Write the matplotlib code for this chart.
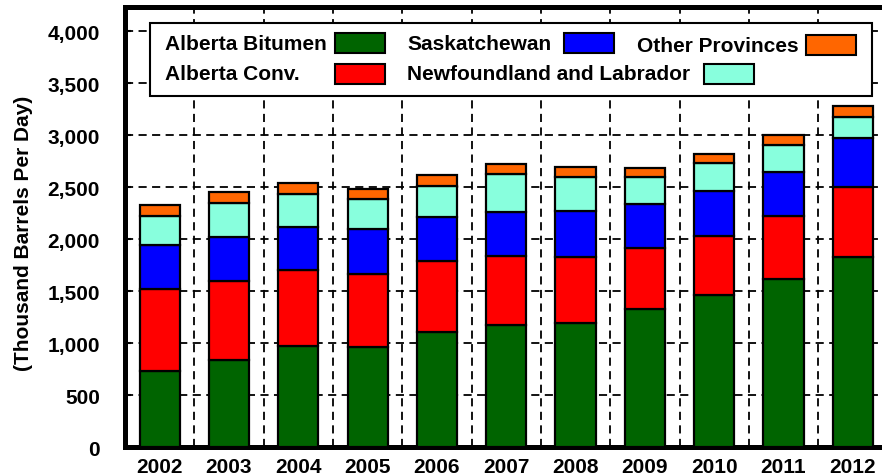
import matplotlib
matplotlib.use("Agg")
import matplotlib.pyplot as plt
import numpy as np
from matplotlib.patches import Rectangle
from matplotlib.ticker import FuncFormatter, MultipleLocator

# Canadian crude oil production by province (thousand barrels per day)
years = ["2002", "2003", "2004", "2005", "2006", "2007", "2008", "2009", "2010", "2011", "2012"]
alberta_bitumen = [728, 840, 974, 965, 1109, 1176, 1192, 1327, 1462, 1619, 1830]
alberta_conv = [794, 759, 731, 702, 679, 664, 638, 586, 570, 605, 670]
saskatchewan = [420, 427, 417, 429, 430, 426, 439, 427, 433, 423, 473]
newfoundland = [282, 327, 314, 289, 295, 362, 334, 256, 272, 263, 203]
other_prov = [103, 102, 102, 102, 102, 96, 92, 90, 87, 96, 103]

series_names = ["Alberta Bitumen", "Alberta Conv.", "Saskatchewan",
                "Newfoundland and Labrador", "Other Provinces"]
series_vals = [alberta_bitumen, alberta_conv, saskatchewan, newfoundland, other_prov]
colors = ["#006400", "#FF0000", "#0000FF", "#88FFDD", "#FF6600"]

plt.rcParams["font.family"] = ["Liberation Sans", "DejaVu Sans"]
plt.rcParams["font.weight"] = "bold"

W, H = 882, 477
fig = plt.figure(figsize=(W / 100, H / 100), dpi=100)
ax = fig.add_axes([125 / W, 1 - 448 / H, 762.5 / W, 440.5 / H])

x = np.arange(len(years))
bottom = np.zeros(len(years))
for vals, col in zip(series_vals, colors):
    ax.bar(x, vals, width=0.58, bottom=bottom, color=col,
           edgecolor="black", linewidth=1.6, zorder=3)
    bottom += np.array(vals)

ax.set_xlim(-0.5, 10.5)
ax.set_ylim(0, 4240)
ax.set_xticks(x)
ax.set_xticklabels(years)
ax.set_xticks(x[:-1] + 0.5, minor=True)
ax.yaxis.set_major_locator(MultipleLocator(500))
ax.yaxis.set_major_formatter(FuncFormatter(lambda v, p: f"{int(v):,}"))

dash = (0, (4.5, 3))
ax.grid(which="minor", axis="x", color="black", linestyle=dash, linewidth=1.3, zorder=1)
ax.grid(which="major", axis="y", color="black", linestyle=dash, linewidth=1.3, zorder=1)
ax.set_axisbelow(True)

ax.tick_params(axis="x", which="both", length=0, pad=7, labelsize=15)
ax.tick_params(axis="y", direction="in", length=4, width=1.5, pad=18, labelsize=15)
for sp in ax.spines.values():
    sp.set_linewidth(3.6)

fig.text(24 / W, 1 - 233 / H, "(Thousand Barrels Per Day)", rotation=90,
         ha="center", va="center", fontsize=15, fontweight="bold")

# legend drawn by hand to follow the original layout
def fx(px):
    return px / W

def fy(py):
    return 1 - py / H

box = Rectangle((fx(150), fy(97)), fx(872) - fx(150), fy(24) - fy(97),
                transform=fig.transFigure, facecolor="white",
                edgecolor="black", linewidth=1.5, zorder=5)
fig.add_artist(box)

entries = [
    (165, 45, 335, 44),
    (165, 75, 335, 75),
    (407, 45, 564, 44),
    (407, 75, 704, 75),
    (637, 46, 806, 46),
]
for (tx, ty, px, py), name, col in zip(entries, series_names, colors):
    fig.text(fx(tx), fy(ty), name, ha="left", va="center",
             fontsize=15, fontweight="bold", zorder=6)
    fig.add_artist(Rectangle((fx(px), fy(py + 10)), fx(50), 20 / H,
                             transform=fig.transFigure, facecolor=col,
                             edgecolor="black", linewidth=1.5, zorder=6))

fig.savefig("out.png", dpi=100)
